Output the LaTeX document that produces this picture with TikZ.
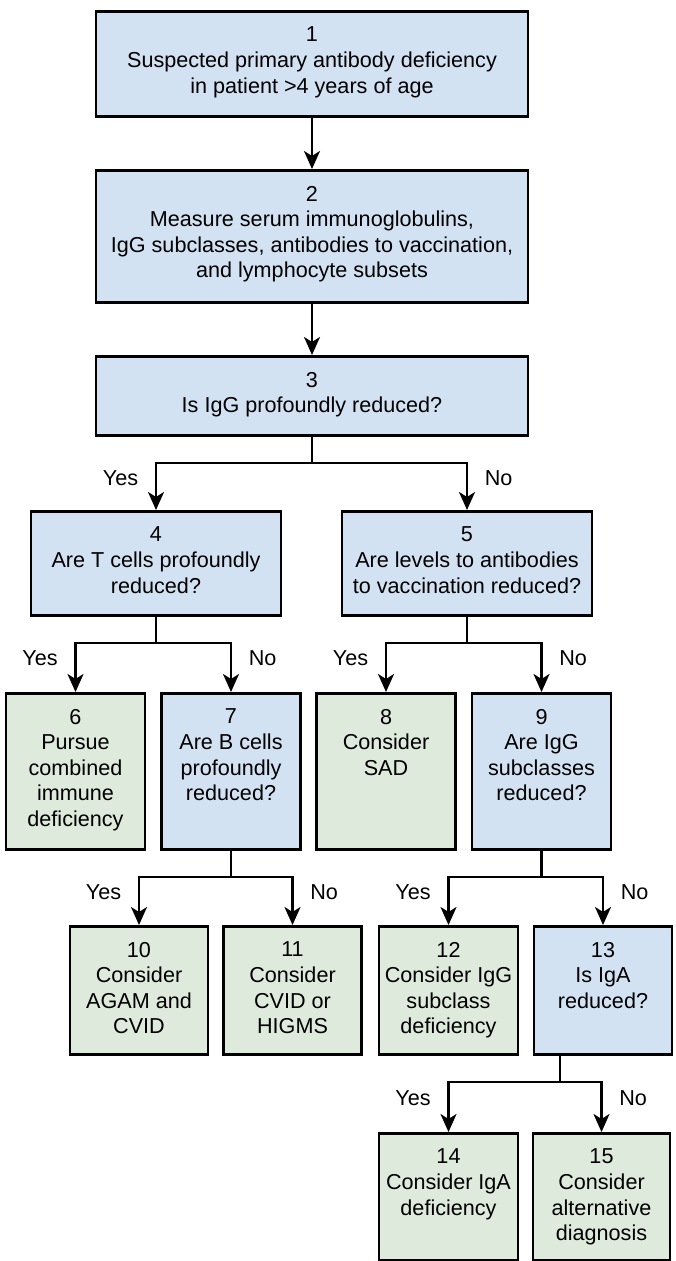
\documentclass[tikz,border=0pt]{standalone}
\usepackage{fontspec}
\setmainfont{Liberation Sans}
\usetikzlibrary{arrows.meta}

\definecolor{askblue}{RGB}{211,226,242}
\definecolor{actgreen}{RGB}{222,234,220}

\begin{document}
\begin{tikzpicture}[x=0.5pt, y=-0.5pt, >={Stealth[length=9pt,width=8pt,inset=2.5pt]},
  txt/.style={anchor=north, align=center, inner sep=0pt, yshift=-8.3pt,
    font=\fontsize{10.8}{12.8}\selectfont},
  wh/.style 2 args={minimum width=#1*0.5pt, minimum height=#2*0.5pt},
  box/.style={draw, line width=1.4pt, inner sep=0pt, anchor=north},
  ask/.style={box, fill=askblue},
  act/.style={box, fill=actgreen},
  link/.style={->, line width=1.2pt},
  stem/.style={line width=1.2pt},
  yes/.style={pos=0.66, left=5pt, font=\fontsize{10.8}{12.8}\selectfont},
  no/.style={pos=0.66, right=5pt, font=\fontsize{10.8}{12.8}\selectfont}]

  % Page frame
  \useasboundingbox (0,0) rectangle (675,1261);

  % Drop from a box to its fork (px)
  \def\drop{26}

  % Top chain
  \node[ask, wh={432}{105}, label={[txt]north:{1\\Suspected primary antibody deficiency\\in patient >4 years of age}}] (b1) at (312,10) {};
  \node[ask, wh={432}{132}, label={[txt]north:{2\\Measure serum immunoglobulins,\\IgG subclasses, antibodies to vaccination,\\and lymphocyte subsets}}] (b2) at (312,169) {};
  \node[ask, wh={432}{79}, label={[txt]north:{3\\Is IgG profoundly reduced?}}] (b3) at (312,355) {};

  % Second level
  \node[ask, wh={250}{104}, label={[txt]north:{4\\Are T cells profoundly\\reduced?}}] (b4) at (156,510) {};
  \node[ask, wh={250}{104}, label={[txt]north:{5\\Are levels to antibodies\\to vaccination reduced?}}] (b5) at (467,510) {};

  % Third level
  \node[act, wh={139}{156}, label={[txt]north:{6\\Pursue\\combined\\immune\\deficiency}}] (b6) at (75.5,692) {};
  \node[ask, wh={139}{156}, label={[txt]north:{7\\Are B cells\\profoundly\\reduced?}}] (b7) at (231,692) {};
  \node[act, wh={139}{156}, label={[txt]north:{8\\Consider\\SAD}}] (b8) at (386,692) {};
  \node[ask, wh={139}{156}, label={[txt]north:{9\\Are IgG\\subclasses\\reduced?}}] (b9) at (541.5,692) {};

  % Fourth level
  \node[act, wh={138}{128}, label={[txt]north:{10\\Consider\\AGAM and\\CVID}}] (b10) at (139,925) {};
  \node[act, wh={138}{128}, label={[txt]north:{11\\Consider\\CVID or\\HIGMS}}] (b11) at (292.5,925) {};
  \node[act, wh={139}{128}, label={[txt]north:{12\\Consider IgG\\subclass\\deficiency}}] (b12) at (448.5,925) {};
  \node[ask, wh={138}{128}, label={[txt]north:{13\\Is IgA\\reduced?}}] (b13) at (603,925) {};

  % Bottom level
  \node[act, wh={139}{127}, label={[txt]north:{14\\Consider IgA\\deficiency}}] (b14) at (448.5,1132) {};
  \node[act, wh={137}{127}, label={[txt]north:{15\\Consider\\alternative\\diagnosis}}] (b15) at (601.5,1132) {};

  % Straight arrows
  \draw[link] (b1) -- (b2);
  \draw[link] (b2) -- (b3);

  % Forks
  \draw[stem] (b3.south) -- ++(0,\drop) coordinate (f3);
  \draw[link] (f3) -| node[yes] {Yes} (b4.north);
  \draw[link] (f3) -| node[no] {No} (b5.north);

  \draw[stem] (b4.south) -- ++(0,\drop) coordinate (f4);
  \draw[link] (f4) -| node[yes] {Yes} (b6.north);
  \draw[link] (f4) -| node[no] {No} (b7.north);

  \draw[stem] (b5.south) -- ++(0,\drop) coordinate (f5);
  \draw[link] (f5) -| node[yes] {Yes} (b8.north);
  \draw[link] (f5) -| node[no] {No} (b9.north);

  \draw[stem] (b7.south) -- ++(0,\drop) coordinate (f7);
  \draw[link] (f7) -| node[yes] {Yes} (b10.north);
  \draw[link] (f7) -| node[no] {No} (b11.north);

  \draw[stem] (b9.south) -- ++(0,\drop) coordinate (f9);
  \draw[link] (f9) -| node[yes] {Yes} (b12.north);
  \draw[link] (f9) -| node[no] {No} (b13.north);

  % Stem under 13 sits left of centre
  \draw[stem] ([xshift=-21.5pt]b13.south) -- ++(0,\drop) coordinate (f13);
  \draw[link] (f13) -| node[yes] {Yes} (b14.north);
  \draw[link] (f13) -| node[no] {No} (b15.north);

\end{tikzpicture}
\end{document}
